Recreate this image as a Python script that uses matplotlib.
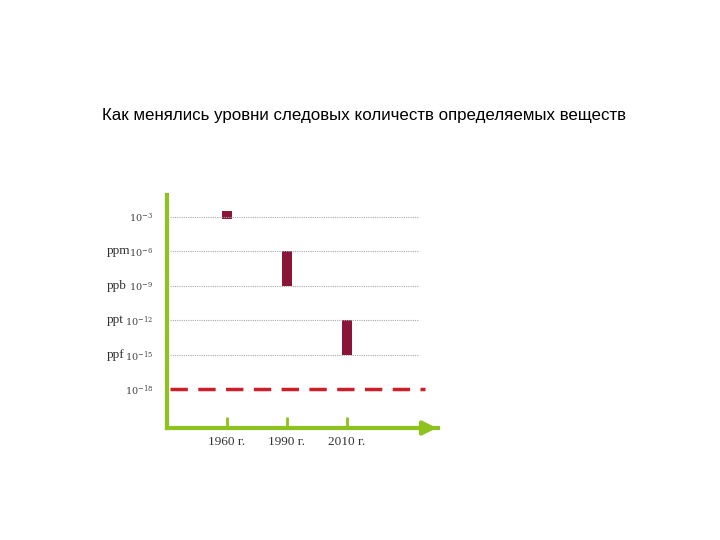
import matplotlib
matplotlib.use("Agg")
import matplotlib.pyplot as plt

years = ["1960 г.", "1990 г.", "2010 г."]
bar_top = [-2.5, -6, -12]
bar_bottom = [-3.2, -9, -15]
levels = [-3, -6, -9, -12, -15, -18]
units = ["", "ppm", "ppb", "ppt", "ppf", ""]
limit = -18

plt.rcParams["mathtext.fontset"] = "dejavuserif"
fig = plt.figure(figsize=(7.2, 5.4), dpi=100)
fig.text(0.505, 0.787, "Как менялись уровни следовых количеств определяемых веществ",
         ha="center", va="center", fontsize=12.2, family="Liberation Sans")
ax = fig.add_axes([0.232, 0.2074, 0.376, 0.4315])
ax.set_xlim(-1, 3.52)
ax.set_ylim(-21.35, -1.1)
green = "#8dc21f"
for s in ["top", "right"]:
    ax.spines[s].set_visible(False)
ax.spines["left"].set_color(green); ax.spines["left"].set_linewidth(3)
ax.spines["bottom"].set_color(green); ax.spines["bottom"].set_linewidth(3)
ax.annotate("", xy=(3.55, -21.35), xytext=(3.1, -21.35),
            arrowprops=dict(arrowstyle="-|>", color=green, lw=3, mutation_scale=20),
            annotation_clip=False)
for lv in levels[:-1]:
    ax.plot([-0.95, 3.2], [lv, lv], color="#aaaaaa", lw=0.8, ls=(0, (1, 1)))
ax.plot([-0.95, 3.3], [limit, limit], color="#cc1f2a", lw=2.5, ls=(0, (5, 3)))
for i in range(len(years)):
    ax.bar(i, bar_top[i] - bar_bottom[i], bottom=bar_bottom[i], width=0.17, color="#8b1538")
ax.set_yticks(levels)
ax.set_yticklabels([f"$\\mathrm{{10}}^{{{lv}}}$" for lv in levels], fontsize=7, color="#444444")
ax.tick_params(axis="y", length=0, pad=10)
for lv, u in zip(levels, units):
    if u:
        ax.text(-2.0, lv, u, ha="left", va="center", fontsize=9.5, color="#333333",
                family="Liberation Serif")
ax.set_xticks(range(len(years)))
ax.set_xticklabels(years, fontsize=9.5, color="#333333", family="Liberation Serif")
ax.tick_params(axis="x", direction="in", length=8, width=2, color=green, pad=6)
fig.savefig("out.png")
